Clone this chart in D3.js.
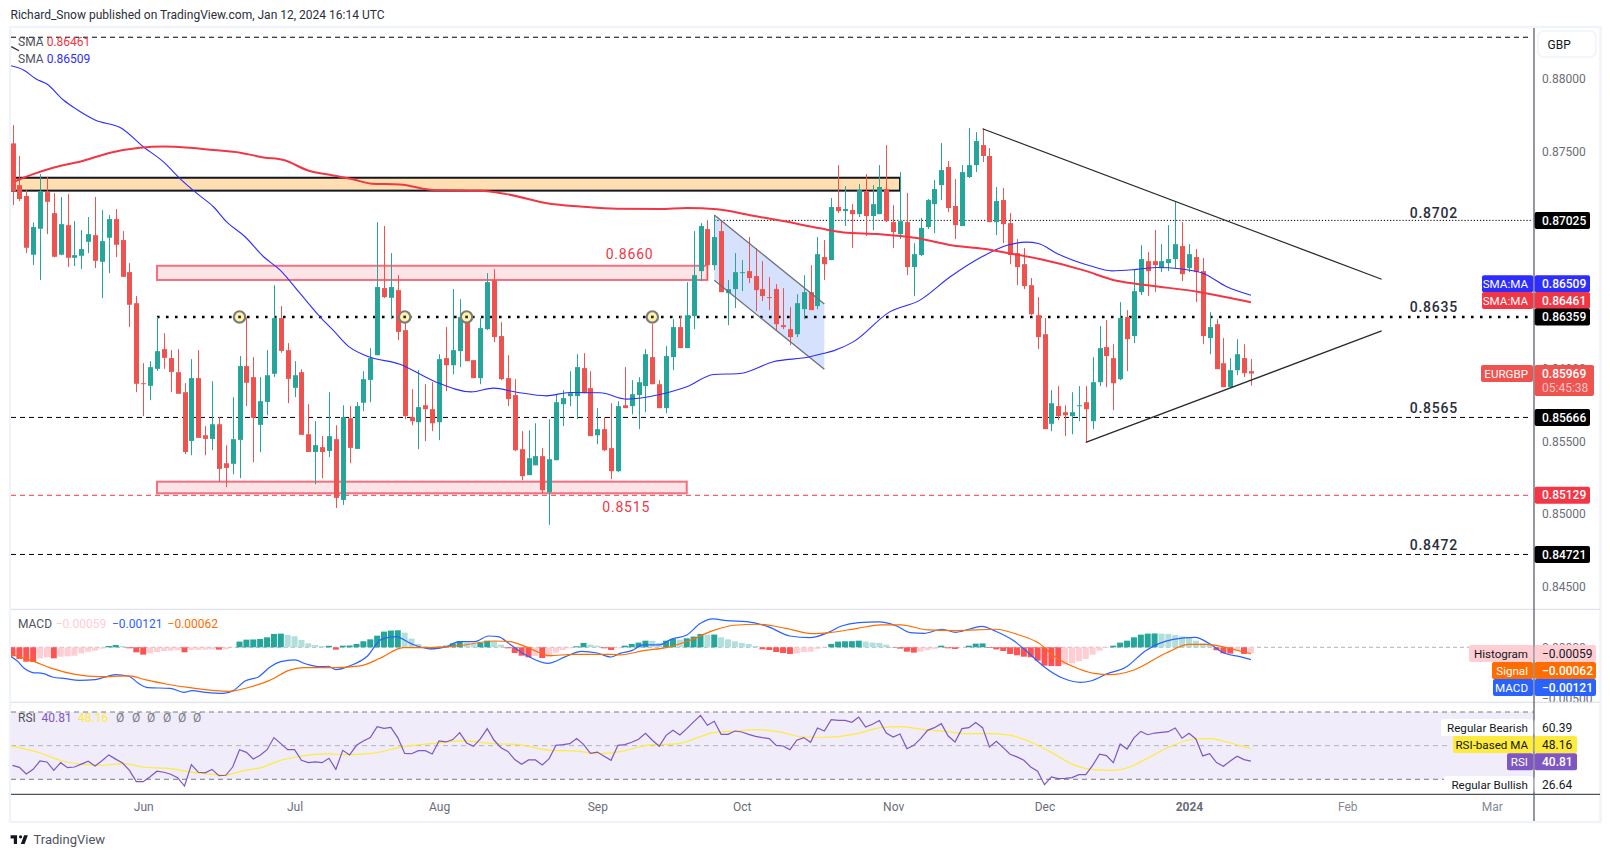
<!DOCTYPE html>
<html><head><meta charset="utf-8">
<script src="https://cdnjs.cloudflare.com/ajax/libs/d3/7.8.5/d3.min.js"></script>
<style>html,body{margin:0;padding:0;background:#fff}svg{display:block}text{font-family:Roboto,"Noto Sans",sans-serif}</style>
</head><body><svg id="c" width="1610" height="857"></svg>
<script>
// ---------- candle data (prices in 1e-5 units, one entry per daily bar) ----------
const openP=[87556,87268,87193,86788,86967,87220,87075,86788,86992,86767,86781,86877,86923,86739,86905,87034,86889,86668,86454,85902,85884,86001,86137,86075,85978,85840,85504,85937,85543,85518,85619,85350,85346,85511,86020,85944,85615,85773,85967,86351,86130,85870,85978,85550,85428,85461,85435,85516,85097,85661,85449,85767,85925,86095,86558,86491,86544,86268,85668,85633,85750,85723,85633,86075,86026,86123,86344,86061,85937,86275,86613,86227,85937,85820,85447,85268,85336,85399,85150,85371,85757,85813,85813,86006,85868,85543,85585,85454,85295,85750,85744,85820,85882,86082,85895,85730,86082,86289,86144,86365,86675,86965,86716,86951,86523,86551,86664,86675,86641,86551,86496,86551,86302,86275,86240,86413,86530,86434,86772,86751,87117,87089,87096,87068,87227,87055,87068,87241,87013,86930,87013,86703,86786,86979,87137,87268,87393,87124,86986,87324,87406,87544,87469,87013,87165,87006,86799,86723,86578,86371,86240,85622,85744,85702,85675,85746,85771,85640,85909,86151,86075,85930,86358,86227,86530,86744,86744,86696,86730,86758,86848,86696,86772,86675,86213,86309,86040,85875,85992,86075,85985];
const highP=[87682,87469,87234,87011,87344,87324,87213,87186,87206,87020,86958,87048,87186,87096,87061,87103,86951,86730,86503,86040,86054,86360,86247,86130,86137,85902,86068,86130,85606,85916,85668,85474,85806,86089,86355,86082,85944,86130,86578,86434,86178,86054,85999,85757,85640,85537,85840,85612,85750,85744,85771,85985,86144,87013,86986,86799,86647,86383,85861,85992,85895,85909,86102,86289,86551,86482,86388,86061,86351,86661,86689,86323,86095,85930,85571,85578,85626,85454,85654,85826,85854,85985,86102,86109,85985,85730,85668,85764,85778,86013,85923,85944,86137,86309,85923,86158,86344,86365,86599,86951,87006,87027,87061,87027,86613,86799,86751,86910,86834,86744,86634,86585,86558,86427,86516,86647,86716,86910,86889,87179,87406,87262,87137,87275,87344,87268,87406,87544,87130,87358,87213,86868,87041,87172,87303,87558,87434,87310,87406,87662,87634,87657,87524,87255,87248,87075,86896,86834,86627,86496,86351,85854,85882,85750,85840,85882,85882,86082,86296,86337,86171,86461,86406,86682,86854,86806,86958,86861,86992,87151,87013,86861,86827,86765,86392,86344,86213,86075,86206,86171,86069];
const lowP=[87130,87158,86799,86717,86613,86930,86770,86785,86703,86710,86689,86799,86696,86489,86661,86772,86636,86289,85840,85675,85785,85987,86001,85840,85829,85412,85405,85525,85405,85440,85221,85185,85274,85247,85744,85357,85426,85681,85946,86112,85764,85806,85546,85428,85205,85247,85392,85042,85063,85350,85449,85709,85771,86095,86489,86344,86199,85654,85612,85447,85502,85571,85509,85847,85964,86013,86054,85937,85895,86268,86185,85923,85744,85433,85233,85268,85336,85141,84925,85371,85606,85744,85654,85833,85537,85481,85433,85240,85288,85730,85688,85585,85702,85895,85730,85695,85992,86144,86144,86275,86606,86613,86682,86530,86302,86420,86537,86592,86399,86468,86406,86268,86275,86164,86220,86344,86406,86413,86613,86751,87075,86986,86834,87048,86917,86958,87068,87013,86834,86896,86647,86503,86779,86965,86937,87165,87082,86896,86986,87317,87358,87427,87013,86923,86868,86723,86578,86551,86371,86137,85585,85571,85647,85537,85550,85640,85493,85585,85882,85875,85716,85923,85985,86178,86510,86503,86530,86668,86675,86696,86606,86668,86461,86171,86102,85999,85875,85875,85957,85944,85885];
const closeP=[87227,87172,86836,86979,87227,87153,86774,86999,86767,86785,86827,86930,86746,86882,87034,86857,86636,86443,85898,85898,86013,86123,86077,85980,85829,85428,85937,85525,85518,85619,85311,85318,85516,86020,85905,85663,85778,85957,86351,86125,85932,85957,85546,85428,85475,85428,85537,85111,85668,85456,85744,85930,86075,86565,86496,86565,86256,85675,85640,85737,85723,85626,86068,86026,86130,86358,86054,85937,86282,86599,86220,85930,85792,85440,85261,85385,85399,85164,85378,85771,85799,85833,86013,85833,85537,85585,85440,85295,85744,85730,85826,85909,86102,85895,85730,86089,86289,86144,86371,86647,86986,86716,86910,86530,86551,86668,86668,86627,86544,86503,86491,86309,86289,86220,86454,86530,86406,86792,86723,87117,87089,87103,87068,87234,87055,87137,87255,87020,86944,87020,86703,86792,86972,87165,87241,87372,87110,86992,87358,87406,87572,87469,87013,87158,86999,86786,86703,86572,86378,86220,85585,85764,85675,85681,85702,85750,85723,85909,86144,86089,85902,86351,86206,86537,86758,86675,86716,86744,86758,86861,86654,86792,86668,86227,86289,85999,85875,85992,86102,85971,85969];

// ---------- moving averages (bar position, price in 1e-5) ----------
const sma200Bars=[0.4,3,5.9,10.3,14.2,18.5,21.9,25.8,29.2,33.1,36.5,39.4,43.2,46.6,49.5,52.2,56.3,61.2,68,71.8,78.1,82.5,87.8,94.1,98,102.4,107.2,112,117.4,120.8,126.1,131.4,136.7,141.1,145,149.3,155.6,160.5,165.3,172.6,180];
const sma200Vals=[87296,87344,87388,87436,87492,87526,87535,87526,87510,87492,87459,87441,87365,87335,87308,87278,87273,87234,87229,87206,87140,87121,87105,87103,87110,87101,87061,87020,86970,86942,86930,86903,86852,86829,86797,86758,86682,86608,86576,86530,86461];
const sma50Bars=[-0.3,1.6,3.5,5,7.4,9.3,12,15.9,19,21.9,24.3,26.8,29.2,31.1,33.8,36.5,38.9,41.8,44.7,46.6,48.8,51.5,56.3,61.2,66.7,69.9,73.3,77.6,81,85.4,89.3,94.1,98,101.9,105.7,110.6,115.9,117.4,119.3,122.2,127.5,131.9,136.3,140.9,144.7,147.4,149.1,151.8,156.6,159.8,163.4,166.4,169.7,173.1,176.5,180];
const sma50Vals=[88092,88062,87998,87965,87855,87791,87717,87659,87533,87430,87315,87211,87119,87016,86912,86774,86682,86521,86360,86268,86158,86089,86033,85918,85842,85868,85840,85815,85838,85836,85792,85824,85877,85962,85969,86050,86084,86102,86125,86187,86394,86475,86636,86774,86855,86875,86866,86797,86712,86677,86687,86700,86691,86659,86567,86509];

// ---------- MACD (1e-5 units) ----------
const histVals=[-88,-114,-141,-144,-108,-98,-108,-92,-88,-82,-59,-43,-33,-13,13,23,13,-10,-49,-72,-59,-46,-36,-33,-29,-49,-26,-25,-23,-20,-23,-20,-3,56,75,77,82,98,131,134,121,108,72,39,23,13,15,-23,16,18,33,59,78,114,154,164,167,144,85,33,13,-20,7,16,39,59,46,33,46,65,59,26,-10,-56,-82,-98,-85,-105,-92,-52,-26,-10,10,43,26,16,-10,-26,-10,16,33,46,65,64,43,65,82,75,88,105,131,124,125,98,78,59,43,33,13,-20,-26,-46,-56,-65,-59,-46,-43,-16,-3,33,56,59,60,65,56,46,43,26,-3,-13,-43,-52,-43,-29,-16,16,-10,-16,-3,16,36,38,-7,-20,-36,-65,-78,-92,-98,-131,-180,-183,-184,-170,-157,-137,-114,-72,-33,-7,16,46,65,98,124,134,136,134,131,121,108,98,65,39,23,-29,-59,-62,-39,-65,-59];
const macdBars=[-0.4,0.8,1.7,2.8,4.5,5.8,7.7,9.7,12,13.4,14.9,16.9,18.3,19.7,22.9,24.9,26.1,28.1,30.6,32.1,33.8,35.8,37.5,39,41,42.7,44.7,45.9,47,49,51.6,53.6,55.7,58,60.8,63.1,64.9,67.2,69.2,70.6,72.3,74.6,77.8,80.4,82.7,85,87,88.3,90,91.7,94,95.7,98,100,101.8,103.8,106.7,109.8,113,115.9,118.5,120.5,123,125.9,128.5,130.5,132.5,135.1,137.1,140.9,142.9,145.7,148,149.8,152.7,155.2,156.7,159,161.8,164.7,168.7,171.9,173.9,176.2,178.4,180];
const macdVals=[-82,-141,-206,-245,-258,-291,-307,-324,-317,-294,-268,-284,-353,-396,-402,-441,-425,-441,-451,-425,-330,-288,-190,-141,-124,-164,-190,-186,-219,-183,-85,78,105,33,-16,7,56,56,111,105,29,-75,-157,-92,-39,-56,-95,-59,-33,23,23,78,121,235,278,262,252,203,111,95,144,209,242,249,209,144,137,177,147,206,157,56,-75,-183,-304,-343,-330,-262,-196,-33,78,98,39,-59,-92,-121];
const signalBars=[-0.4,2.8,5.7,9.1,12.6,16.9,19.4,22.3,25.8,31.5,34.4,37.3,40.4,42.4,47,50.5,53.4,56.8,60.8,64.9,70,72.3,74.6,78.1,81.5,87,88.3,91.7,95.2,98.6,101.8,104.9,108.4,112.4,116.2,118.7,122.8,126.2,129.1,133.1,137.1,142.9,146.3,149.2,151.5,154.4,157.2,159.6,163,167.6,171,173.4,178.4,180];
const signalVals=[-65,-131,-206,-265,-288,-281,-320,-360,-396,-432,-392,-327,-222,-199,-199,-183,-108,-3,-3,16,62,56,7,-82,-69,-69,-75,-33,0,72,164,216,226,186,134,144,186,219,219,170,164,177,121,39,-92,-196,-255,-268,-222,-59,29,29,-36,-62];

// ---------- RSI ----------
const rsiVals=[38.3,37.1,33.2,35.9,40.9,40.3,35.3,39.9,36.9,37.3,39,40.7,37.9,41,44.5,42,39.7,35.3,28.6,28.6,31.5,34.8,34.2,33,31,26,38.7,34.2,33.8,35.9,32.2,32.4,37.3,47.6,46,42.1,44.3,47.6,54.8,51.2,47.6,47.6,41.3,39.9,40.3,39.9,42.5,35.9,47.2,44.5,50.2,52.8,54.8,61.3,60.3,60.9,54.8,45.4,45.2,47,47,45,52.8,52.2,53.6,57.7,51.6,49.6,54,60.1,53.2,48.8,46.6,41.7,38.9,41.5,41.5,38.5,42.3,50.2,50.6,51.2,54.2,50.8,45.4,46.2,43.7,41.3,50.2,50.6,52,53.8,57.3,53.2,49.6,56.1,59.1,56.3,60.1,64.1,68,62.1,64.5,56.7,56.7,58.7,58.1,56.7,55.5,54.8,54.2,50.2,49.8,47.6,53.2,54.8,52,60.5,58.7,65.4,65,65,63.9,67,61.1,62.7,64.9,57.5,55.1,56.9,48.2,50.2,54.2,59.1,60.7,63.1,55.7,52.2,60.1,60.7,63.7,60.7,49.2,52.6,48.8,44.9,43.3,41.3,37.3,34.8,26.8,31.4,30.4,30.6,31,32.8,32.8,38.3,44.9,44.1,39.9,51,48,54.6,58.5,56.5,57.5,57.9,58.3,60.5,54.4,57.3,54,43.9,45.2,39.9,37.7,40.9,43.7,41.7,40.81];
const rsiMaBars=[-0.4,3.9,7.7,12.6,16.3,18.9,22.9,26.9,30.9,33.8,36.1,39,41.9,45.9,48.2,52.2,56.8,62,65.1,70,73.5,78.1,82.1,85,88.3,90,92,96.9,99.2,102.1,105,108.1,111.3,114.7,118.2,122.8,126.2,129.1,132.5,136,138.3,141.7,144.9,148,150.9,154.4,157.2,159.8,162.4,165.3,168.7,171.6,173.9,178.4,180];
const rsiMaVals=[50,45.8,40.3,38.3,39.3,37.3,36.3,33.8,32.6,35.3,36.9,41.3,43.7,45.1,44.7,45.4,49.4,51.6,52.8,51.2,50.6,47.2,46.8,45.2,46.4,48,50.2,51.2,54.2,57.9,58.7,59.5,58.3,55.3,55,57.1,60.7,61.3,59.5,58.3,57.1,57.1,56.3,52.2,46.2,38.3,35.7,35.3,37.3,43.3,50.2,53.8,54.2,50,48.16];

// ---------- axis labels ----------
const monthBars=[19,41,62,85,106,128,150,171,194,215];
const monthLabels=["Jun","Jul","Aug","Sep","Oct","Nov","Dec","2024","Feb","Mar"];
const priceTicks=[0.88,0.875,0.86,0.855,0.85,0.845];
const macdTicks=[0,-500];
const rsiLevels=[70,50,30];

// ---------- drawing tools (bar position, price) ----------
const levelsDashed=[0.88288,0.85666,0.84721];
const levelRed=0.85129, levelDotted=0.86359, levelThin=0.87025;
const touchBars=[33,57,66,93];
const orangeZone=[129,0.87319,0.8723];
const pinkTop=[21,101,0.86712,0.86614];
const pinkBottom=[21,98,0.85223,0.85143];
const channel=[102,118,0.87062,0.86448,0.86612,0.85998];
const upperTrend=[141,199,0.87657,0.86619];
const lowerTrend=[156,199,0.85494,0.86263];
const stubLine=[-0.2,0.94,0.88223,0.88195];
const levelNotes=[["0.8702",0.87025,206.6],["0.8635",0.86359,206.6],["0.8565",0.85666,206.6],["0.8472",0.84721,206.6]];

// ---------- layout ----------
const L=11,R=1534,FR=1600,T=28,P1=609.3,P2=702.3,AX=794.3,B=821;
const svg=d3.select("#c");
const x=d3.scaleLinear().domain([0,221]).range([12.5,12.5+6.88*221]);
const y=d3.scaleLinear().domain([0.88,0.845]).range([79,79+0.035*14500]);
const py=v=>y(v/1e5);
const ym=d3.scaleLinear().domain([0,-500]).range([647.3,698.3]);
const yr=d3.scaleLinear().domain([70,30]).range([712,779.3]);
const UP="#26a69a",DN="#ef5350",INK="#131722",GR="#e0e3eb";

const defs=svg.append("defs");
[["cm",T,P1],["cd",P1,P2],["cr",P2,AX]].forEach(([id,a,b])=>defs.append("clipPath").attr("id",id).append("rect").attr("x",L).attr("y",a).attr("width",R-L).attr("height",b-a));

// frame
svg.append("rect").attr("x",10).attr("y",27).attr("width",1590.5).attr("height",795).attr("fill","#fff").attr("stroke","#f0f3fa").attr("stroke-width",2.4);

const main=svg.append("g").attr("clip-path","url(#cm)");
// zones
const zone=(x0,x1,p0,p1,f,s,w)=>main.append("rect").attr("x",x0).attr("width",x1-x0).attr("y",y(p0)).attr("height",y(p1)-y(p0)).attr("fill",f).attr("stroke",s).attr("stroke-width",w);
zone(6,x(orangeZone[0]),orangeZone[1],orangeZone[2],"#ffdfb2",INK,2);
zone(x(pinkTop[0]),x(pinkTop[1]),pinkTop[2],pinkTop[3],"#fce4e7","#f2707f",2);
zone(x(pinkBottom[0]),x(pinkBottom[1]),pinkBottom[2],pinkBottom[3],"#fce4e7","#f2707f",2);
// channel
main.append("polygon").attr("fill","#d6e2fd")
 .attr("points",[[channel[0],channel[2]],[channel[1],channel[3]],[channel[1],channel[5]],[channel[0],channel[4]]].map(d=>x(d[0])+","+y(d[1])).join(" "));
// levels
const hline=(p,x0,s,w,dash)=>main.append("line").attr("x1",x0).attr("x2",1532).attr("y1",y(p)).attr("y2",y(p)).attr("stroke",s).attr("stroke-width",w).attr("stroke-dasharray",dash);
levelsDashed.forEach(p=>hline(p,L,"#000",1,"5,4"));
hline(levelRed,L,"#f23645",1,"5,4");
hline(levelDotted,x(21),"#000",2.6,"2.6,6.4");
hline(levelThin,x(102),"#000",1,"1.2,1.9");
// candles
const idx=d3.range(closeP.length);
const colr=i=>closeP[i]>=openP[i]?UP:DN;
main.append("g").selectAll("line").data(idx).join("line")
 .attr("x1",i=>Math.round(x(i))+.5).attr("x2",i=>Math.round(x(i))+.5)
 .attr("y1",i=>py(highP[i])).attr("y2",i=>py(lowP[i])).attr("stroke",colr).attr("stroke-width",1);
main.append("g").selectAll("rect").data(idx).join("rect")
 .attr("x",i=>Math.round(x(i))-2).attr("width",5)
 .attr("y",i=>py(Math.max(openP[i],closeP[i])))
 .attr("height",i=>Math.max(1,Math.abs(py(openP[i])-py(closeP[i])))).attr("fill",colr);
// channel edges & trend lines
const seg=(a,s,w)=>main.append("line").attr("x1",x(a[0])).attr("x2",x(a[1])).attr("y1",y(a[2])).attr("y2",y(a[3])).attr("stroke",s).attr("stroke-width",w);
seg([channel[0],channel[1],channel[2],channel[3]],"#6c6f7a",1.3);
seg([channel[0],channel[1],channel[4],channel[5]],"#6c6f7a",1.3);
seg(upperTrend,"#2a2a2a",1.3);
seg(lowerTrend,"#2a2a2a",1.3);
seg(stubLine,"#2a2a2a",1.3);
// SMAs
const ln=d3.line().curve(d3.curveMonotoneX);
main.append("path").attr("fill","none").attr("stroke","#2d2dff").attr("stroke-width",1.1)
 .attr("d",ln(sma50Bars.map((b,i)=>[x(b),py(sma50Vals[i])])));
main.append("path").attr("fill","none").attr("stroke","#f23645").attr("stroke-width",2)
 .attr("d",ln(sma200Bars.map((b,i)=>[x(b),py(sma200Vals[i])])));
// touch circles
main.append("g").selectAll("circle").data(touchBars).join("circle")
 .attr("cx",d=>x(d)).attr("cy",y(levelDotted)).attr("r",5.7).attr("fill","#fff3a8").attr("stroke","#7b7b7b").attr("stroke-width",2.2);
main.append("g").selectAll("rect").data(touchBars).join("rect")
 .attr("x",d=>x(d)-1.3).attr("y",y(levelDotted)-1.3).attr("width",2.6).attr("height",2.6).attr("fill","#222");
// annotation text
const note=(t,cx,yy,col,w)=>main.append("text").attr("x",cx).attr("y",yy).attr("text-anchor","middle").attr("font-size",14).attr("font-weight",w).attr("letter-spacing",.8).attr("fill",col).text(t);
levelNotes.forEach(n=>note(n[0],x(n[2]),n[1]===0.87025?y(n[1])-2.5:y(n[1])-4.5,"#2a2e39",500));
note("0.8660",x(89.7),258.8,"#f23645",400);
note("0.8515",x(89.2),511.5,"#f23645",400);

// price axis
const axP=svg.append("g").attr("transform",`translate(${R},0)`).call(d3.axisRight(y).tickValues(priceTicks).tickSize(0).tickPadding(8).tickFormat(d3.format(".5f")));
axP.select(".domain").remove();
axP.selectAll("text").attr("font-size",12).attr("fill","#6a6d78");
const axM=svg.append("g").attr("transform",`translate(${R},0)`).call(d3.axisRight(ym).tickValues(macdTicks).tickSize(0).tickPadding(8).tickFormat(d=>d===0?"0.00000":"\u22120.00500"));
axM.select(".domain").remove();
axM.selectAll("text").attr("font-size",12).attr("fill","#6a6d78");

// MACD pane
const macdG=svg.append("g").attr("clip-path","url(#cd)");
macdG.append("line").attr("x1",L).attr("x2",1470).attr("y1",ym(0)).attr("y2",ym(0)).attr("stroke","#b2b5be").attr("stroke-width",1).attr("stroke-dasharray","4,3");
const hc=(i)=>{const v=histVals[i],pv=i?histVals[i-1]:v+1;return v>=0?(v>pv?"#26a69a":"#b2dfdb"):(v<pv?"#ff5252":"#ffcdd2");};
macdG.append("g").selectAll("rect").data(idx).join("rect")
 .attr("x",i=>x(i)-3).attr("width",6).attr("y",i=>Math.min(ym(histVals[i]),ym(0))).attr("height",i=>Math.abs(ym(histVals[i])-ym(0))).attr("fill",hc);
const l2=d3.line().curve(d3.curveMonotoneX);
macdG.append("path").attr("fill","none").attr("stroke","#2962ff").attr("stroke-width",1.2).attr("d",l2(macdBars.map((b,i)=>[x(b),ym(macdVals[i])])));
macdG.append("path").attr("fill","none").attr("stroke","#ff6d00").attr("stroke-width",1.2).attr("d",l2(signalBars.map((b,i)=>[x(b),ym(signalVals[i])])));

// RSI pane
const rsiG=svg.append("g").attr("clip-path","url(#cr)");
rsiG.append("rect").attr("x",L).attr("width",R-L).attr("y",yr(70)).attr("height",yr(30)-yr(70)).attr("fill","#f0ecf9");
rsiLevels.forEach(v=>rsiG.append("line").attr("x1",L).attr("x2",v===50?1450:(v===70?1534:1444)).attr("y1",yr(v)).attr("y2",yr(v))
  .attr("stroke",v===50?"#b2b5be":"#787b86").attr("stroke-width",1).attr("stroke-dasharray","5,4"));
rsiG.append("path").attr("fill","none").attr("stroke","#ffeb3b").attr("stroke-width",1.2).attr("d",l2(rsiMaBars.map((b,i)=>[x(b),yr(rsiMaVals[i])])));
rsiG.append("path").attr("fill","none").attr("stroke","#7e57c2").attr("stroke-width",1.2).attr("d",d3.line()(rsiVals.map((v,i)=>[x(i),yr(v)])));

// x axis
const axX=svg.append("g").attr("transform",`translate(0,${AX})`).call(d3.axisBottom(x).tickValues(monthBars).tickSize(0).tickPadding(8.5).tickFormat((d,i)=>monthLabels[i]));
axX.select(".domain").remove();
axX.selectAll("text").attr("font-size",12).attr("fill","#6a6d78").attr("font-weight",(d,i)=>monthLabels[i]==="2024"?700:400);
axX.selectAll("text").filter((d,i)=>monthLabels[i]==="Feb"||monthLabels[i]==="Mar").attr("fill","#868993");

// separators and axis rules
[P1,P2].forEach(v=>svg.append("line").attr("x1",L).attr("x2",FR).attr("y1",v).attr("y2",v).attr("stroke",GR).attr("stroke-width",1.2));
svg.append("line").attr("x1",L).attr("x2",FR).attr("y1",AX).attr("y2",AX).attr("stroke","#50535e").attr("stroke-width",1.2);
svg.append("line").attr("x1",R).attr("x2",R).attr("y1",T).attr("y2",B).attr("stroke","#50535e").attr("stroke-width",1.2);

// price-side tags
function tag(cy,h,txt,val,bg,fg,lx,vx,vfg){
  const t=cy-h/2;
  if(txt){svg.append("rect").attr("x",lx).attr("y",t).attr("width",R-0.8-lx).attr("height",h).attr("rx",2).attr("fill",bg);
    svg.append("text").attr("x",R-6).attr("y",cy+4.2).attr("text-anchor","end").attr("font-size",11.6).attr("fill",fg).text(txt);}
  svg.append("rect").attr("x",R+0.6).attr("y",t).attr("width",vx-R-0.6).attr("height",h).attr("rx",2).attr("fill",bg);
  svg.append("text").attr("x",R+8).attr("y",cy+4.2).attr("font-size",12).attr("font-weight",fg==="#fff"?500:400).attr("fill",vfg||fg).text(val);
}
tag(y(levelThin),17,null,"0.87025","#000","#fff",0,1590);
tag(283.7,17,"SMA:MA","0.86509","#2d2dff","#fff",1482,1590);
tag(300.5,17,"SMA:MA","0.86461","#f23645","#fff",1482,1590);
tag(y(levelDotted),17,null,"0.86359","#000","#fff",0,1590);
tag(y(0.85666),17,null,"0.85666","#000","#fff",0,1590);
tag(y(levelRed),17,null,"0.85129","#f23645","#fff",0,1590);
tag(y(0.84721),17,null,"0.84721","#000","#fff",0,1590);
// EURGBP with countdown
svg.append("rect").attr("x",1481).attr("y",365).attr("width",52).attr("height",17).attr("rx",2).attr("fill","#ef5350");
svg.append("text").attr("x",R-6).attr("y",377.7).attr("text-anchor","end").attr("font-size",11.6).attr("fill","#fff").text("EURGBP");
svg.append("rect").attr("x",R+.6).attr("y",365).attr("width",59.4).attr("height",31).attr("rx",2).attr("fill","#ef5350");
svg.append("text").attr("x",R+8).attr("y",377.7).attr("font-size",12).attr("font-weight",500).attr("fill","#fff").text("0.85969");
svg.append("text").attr("x",R+8).attr("y",391.5).attr("font-size",12).attr("fill","#fbc4c2").text("05:45:38");
// MACD tags
tag(653.4,17,"Histogram","\u22120.00059","#ffcdd2",INK,1469,1596);
tag(670.4,17,"Signal","\u22120.00062","#ff6d00","#fff",1492,1596);
tag(687.5,17,"MACD","\u22120.00121","#2962ff","#fff",1493,1596);
// RSI tags
tag(727.5,17,"Regular Bearish","60.39","#fff",INK,1441,1578);
tag(744.6,17,"RSI-based MA","48.16","#ffeb3b",INK,1453,1577);
tag(761.7,17,"RSI","40.81","#7e57c2","#fff",1507,1577);
tag(784.5,17,"Regular Bullish","26.64","#fff",INK,1444,1578);
// GBP button
svg.append("rect").attr("x",1538).attr("y",31).attr("width",58).attr("height",26).attr("rx",6).attr("fill","#fff").attr("stroke","#f0f3fa").attr("stroke-width",1.5);
svg.append("text").attr("x",1547.5).attr("y",49.3).attr("font-size",12).attr("fill","#131722").text("GBP");

// legends
const leg=(t,px,py_,c)=>svg.append("text").attr("x",px).attr("y",py_).attr("font-size",12).attr("fill",c).text(t);
leg("SMA",18,46,"#50535e");leg("0.86461",46.7,46,"#f23645");
leg("SMA",18,63.3,"#50535e");leg("0.86509",46.7,63.3,"#2d2dff");
leg("MACD",18,628,"#50535e");leg("\u22120.00059",55.7,628,"#ffcdd2");leg("\u22120.00121",112,628,"#2962ff");leg("\u22120.00062",167.6,628,"#ff6d00");
leg("RSI",18,721.5,"#50535e");leg("40.81",41.5,721.5,"#7e57c2");leg("48.16",78,721.5,"#ffeb3b");
[116,132,147,163,178,193].forEach(px=>leg("\u00d8",px,721.5,"#787b86"));

// header / footer
svg.append("text").attr("x",10.5).attr("y",19).attr("font-size",12).attr("fill","#2a2e39").text("Richard_Snow published on TradingView.com, Jan 12, 2024 16:14 UTC");
svg.append("g").attr("transform","translate(9.5,832) scale(0.54)").call(g=>{
  g.append("path").attr("fill","#131722").attr("d","M14 6H2v6h6v10h6V6zm14 16h-7l6-16h7l-6 16z");
  g.append("circle").attr("cx",20.5).attr("cy",9).attr("r",3).attr("fill","#131722");
});
svg.append("text").attr("x",33.5).attr("y",844.3).attr("font-size",13).attr("fill","#50535e").text("TradingView");
</script></body></html>
